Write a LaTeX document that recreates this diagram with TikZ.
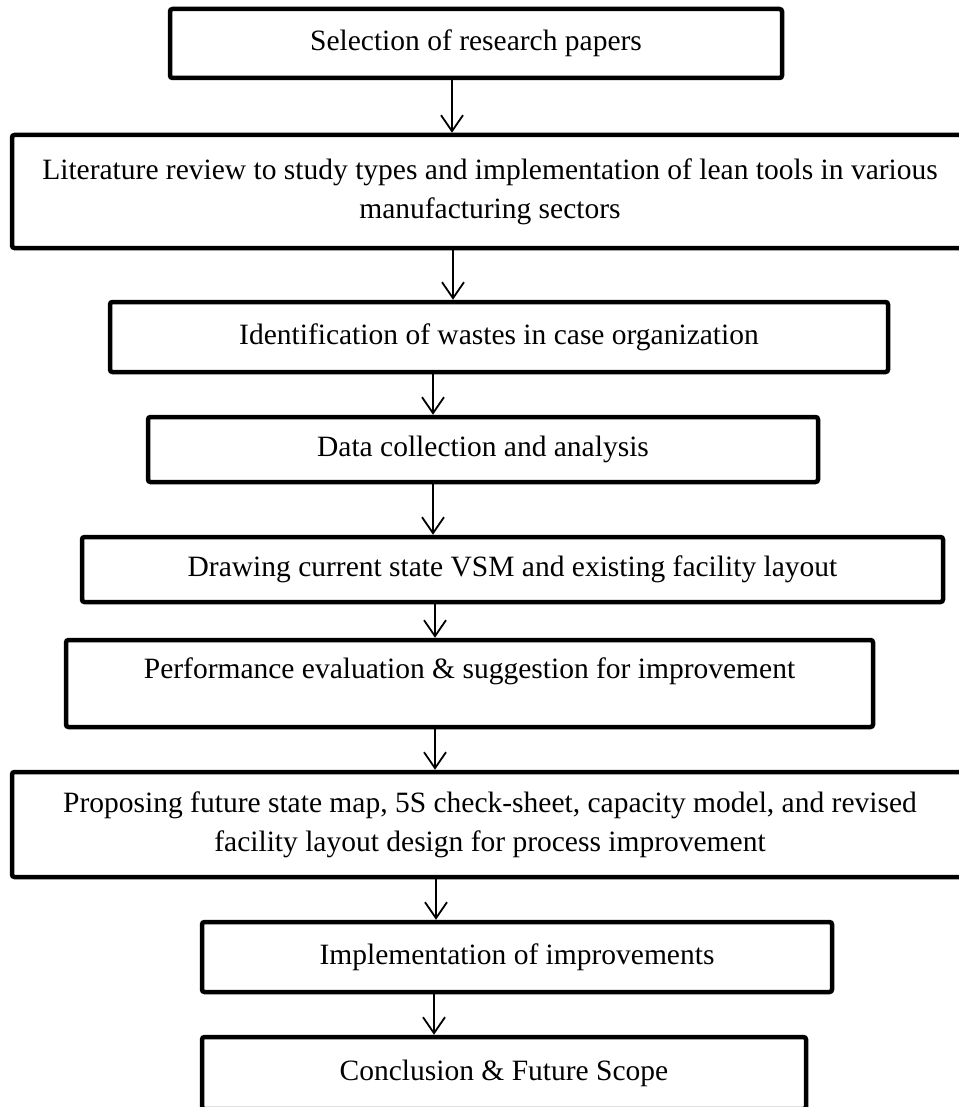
\documentclass[tikz,border=0pt]{standalone}
\usepackage{fontspec}
\setmainfont{Liberation Serif}
\usetikzlibrary{arrows.meta}
\begin{document}
\begin{tikzpicture}[x=1pt,y=-1pt,
  stepbox/.style={draw=black, line width=4.5pt, rounded corners=2.5pt, fill=white,
    inner sep=0pt, align=center, font=\fontsize{29.5}{39}\selectfont},
  flow/.style={line width=1.8pt, -{Straight Barb[length=16pt,width=22pt,line width=1.8pt]}}]
\useasboundingbox (0,0) rectangle (958,1107);
\fill[white] (0,0) rectangle (958,1107);

% process steps, top to bottom
\node[stepbox, minimum width=612pt, minimum height=69pt] (b1) at (476,43.5)
  {Selection of research papers};
\node[stepbox, minimum width=956pt, minimum height=113pt] (b2) at (490,191.5)
  {Literature review to study types and implementation of lean tools in various\\manufacturing sectors};
\node[stepbox, minimum width=778pt, minimum height=70pt] (b3) at (499,337)
  {Identification of wastes in case organization};
\node[stepbox, minimum width=670pt, minimum height=65pt] (b4) at (483,449.5)
  {Data collection and analysis};
\node[stepbox, minimum width=861pt, minimum height=65pt] (b5) at (512.5,569.5)
  {Drawing current state VSM and existing facility layout};
\node[stepbox, minimum width=807pt, minimum height=87pt, text height=20pt, text depth=29.4pt] (b6) at (469.5,683.5)
  {Performance evaluation \& suggestion for improvement};
\node[stepbox, minimum width=956pt, minimum height=105pt] (b7) at (490,824.5)
  {Proposing future state map, 5S check-sheet, capacity model, and revised\\facility layout design for process improvement};
\node[stepbox, minimum width=630pt, minimum height=70pt] (b8) at (517,957)
  {Implementation of improvements};
\node[stepbox, minimum width=604pt, minimum height=72pt] (b9) at (504,1073)
  {Conclusion \& Future Scope};

% columns of the connectors
\coordinate (a12) at (452,0);
\coordinate (a23) at (453,0);
\coordinate (a34) at (433,0);
\coordinate (a45) at (433,0);
\coordinate (a56) at (435,0);
\coordinate (a67) at (435,0);
\coordinate (a78) at (436,0);
\coordinate (a89) at (434,0);

\draw[flow] (b1.south -| a12) -- (b2.north -| a12);
\draw[flow] (b2.south -| a23) -- (b3.north -| a23);
\draw[flow] (b3.south -| a34) -- (b4.north -| a34);
\draw[flow] (b4.south -| a45) -- (b5.north -| a45);
\draw[flow] (b5.south -| a56) -- (b6.north -| a56);
\draw[flow] (b6.south -| a67) -- (b7.north -| a67);
\draw[flow] (b7.south -| a78) -- (b8.north -| a78);
\draw[flow] (b8.south -| a89) -- (b9.north -| a89);
\end{tikzpicture}
\end{document}
